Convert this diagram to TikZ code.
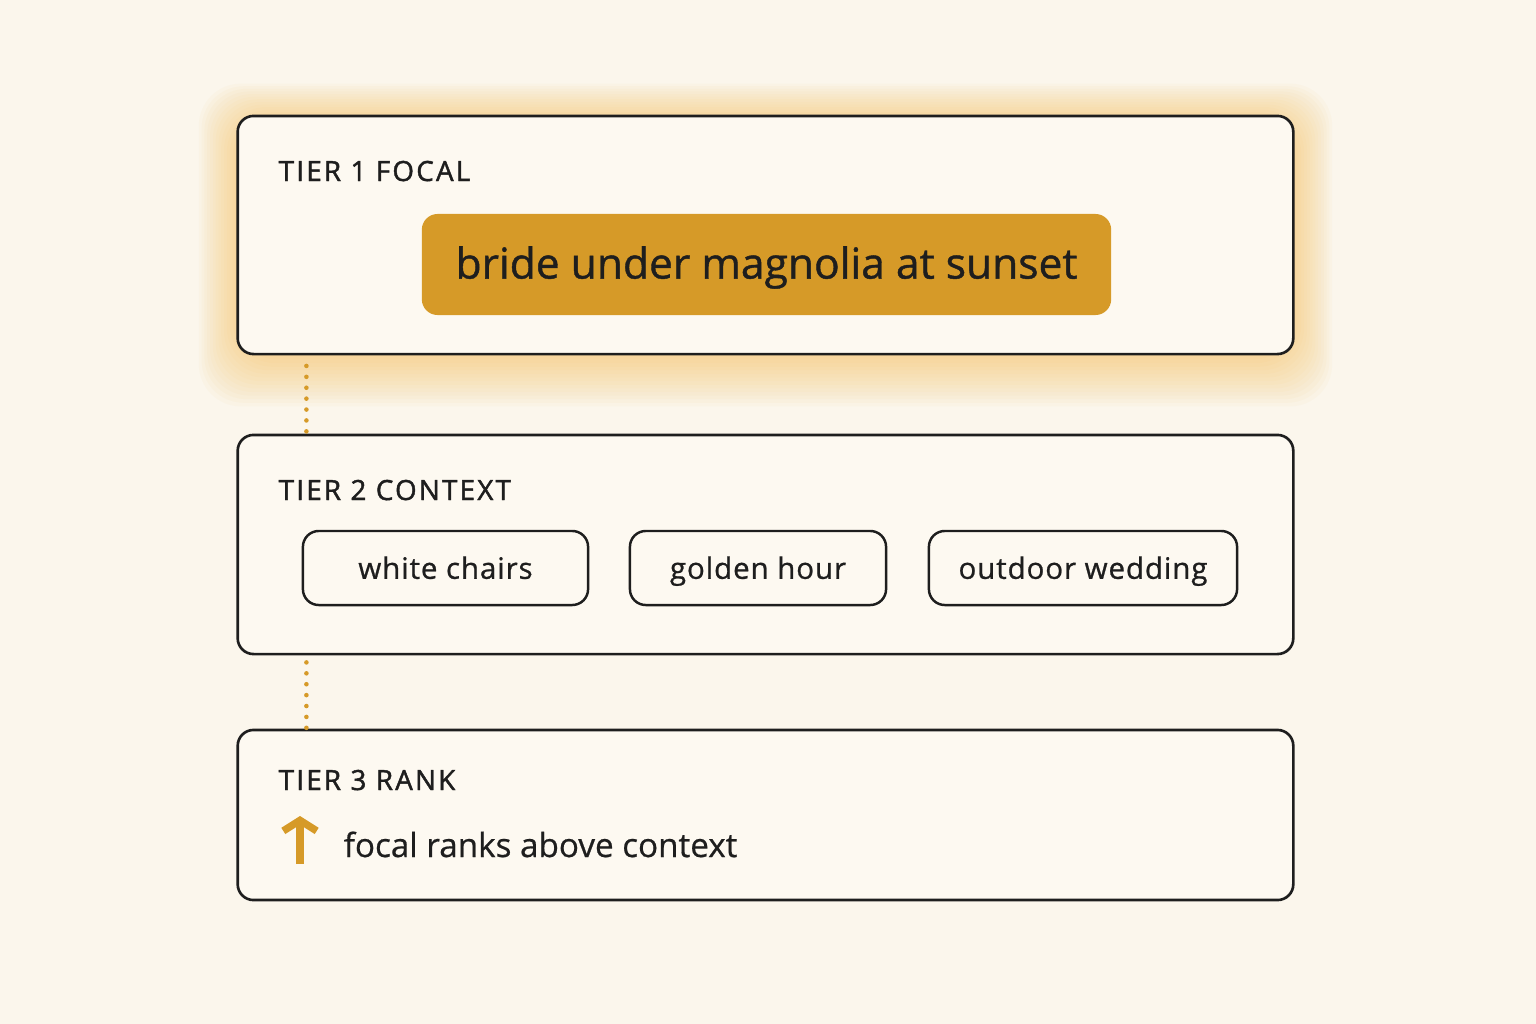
\documentclass[tikz,border=0pt]{standalone}
\usepackage{fontspec}
\setmainfont{Open Sans}[FakeBold=0.6]
\newfontfamily\tierfont[LetterSpace=8, FakeBold=1.6]{Open Sans}
\newfontfamily\chipfont[LetterSpace=3, FakeBold=0.8]{Open Sans}
\newfontfamily\pillfont[FakeBold=1.0]{Open Sans}
\usetikzlibrary{arrows.meta, positioning}
\definecolor{paper}{HTML}{FBF6EC}
\definecolor{boxfill}{HTML}{FDF9F1}
\definecolor{gold}{HTML}{D69A28}
\definecolor{glow}{HTML}{F7B844}
\definecolor{ink}{HTML}{1E1E1E}

\begin{document}
\begin{tikzpicture}[x=0.01cm, y=-0.01cm,
                        tier/.style={draw=ink, line width=0.75pt, rounded corners=4.5pt, fill=boxfill, minimum width=10.55cm},
                        chip/.style={draw=ink, line width=0.7pt, rounded corners=4.5pt, fill=boxfill, minimum height=0.74cm, text height=1.6ex, text depth=0.45ex, font=\chipfont\fontsize{8.4}{10}\selectfont, text=ink},
                        title/.style={anchor=base west, inner sep=0pt, font=\tierfont\fontsize{7.9}{10}\selectfont, text=ink},
                        dots/.style={gold, line width=1.3pt, line cap=round, dash pattern=on 0pt off 3.1pt}]
        \fill[paper] (0,0) rectangle (1536,1024);
        \useasboundingbox (0,0) rectangle (1536,1024);
        % soft glow round the focal tier
        \foreach \g in {1,...,14}
            \fill[glow, opacity=0.04, rounded corners=12pt] (238-2.8*\g,120-2.6*\g) rectangle (1293+2.8*\g,356+3.6*\g);
        \node[tier, minimum height=2.38cm] (tier1) at (765.5,235) {};
        \node[tier, minimum height=2.19cm] (tier2) at (765.5,544.5) {};
        \node[tier, minimum height=1.70cm] (tier3) at (765.5,815) {};
        \node[title] (t1) at (278,181) {TIER 1 FOCAL};
        \node[title] (t2) at (278,500) {TIER 2 CONTEXT};
        \node[title] (t3) at (278,790) {TIER 3 RANK};
        \node[fill=gold, rounded corners=4.5pt, minimum width=6.89cm, minimum height=1.01cm, text=ink,
              text depth=1.2pt, font=\pillfont\fontsize{12.1}{14}\selectfont] (focal) at (766.5,264.5) {bride under magnolia at sunset};
        \node[chip, minimum width=2.85cm] (chairs) at (445.5,568) {white chairs};
        \node[chip, minimum width=2.56cm] (hour) at (758,568) {golden hour};
        \node[chip, minimum width=3.08cm] (wedding) at (1083,568) {outdoor wedding};
        \node[anchor=base west, inner sep=0pt, text=ink, font=\fontsize{9.45}{12}\selectfont] (rank) at (343,857) {focal ranks above context};
        \coordinate (up0) at (300,864);
        \coordinate (up1) at (300,816);
        \draw[gold, line width=2.1pt, -{Straight Barb[length=3pt, width=9.5pt, line width=2.1pt]}] (up0) -- (up1);
        \draw[dots] ([xshift=0.7cm, yshift=-3pt]tier1.south west) -- ([xshift=0.7cm]tier2.north west);
        \draw[dots] ([xshift=0.7cm, yshift=-2pt]tier2.south west) -- ([xshift=0.7cm]tier3.north west);
    \end{tikzpicture}
\end{document}
